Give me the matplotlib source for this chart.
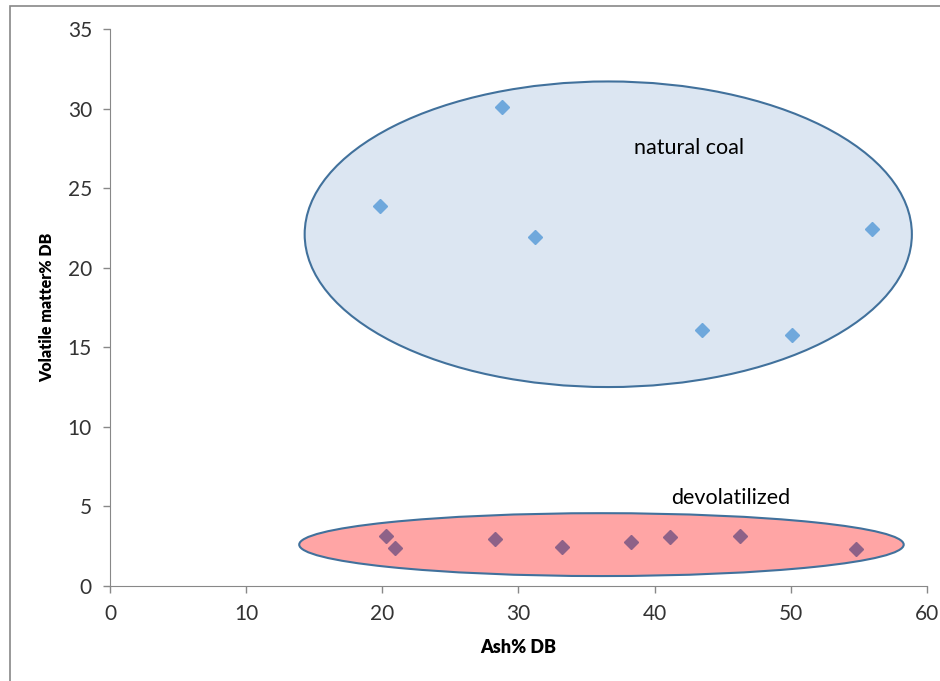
import matplotlib.pyplot as plt
from matplotlib.patches import Ellipse, Rectangle

# natural coal samples (ash %, volatile matter %)
coal_ash = [19.8, 28.8, 31.2, 43.5, 50.1, 56.0]
coal_vm = [23.9, 30.1, 21.9, 16.1, 15.8, 22.4]

# devolatilized samples
devol_ash = [20.3, 20.9, 28.3, 33.2, 38.3, 41.1, 46.3, 54.8]
devol_vm = [3.14, 2.40, 2.95, 2.45, 2.77, 3.08, 3.14, 2.33]

x_ticks = [0, 10, 20, 30, 40, 50, 60]
y_ticks = [0, 5, 10, 15, 20, 25, 30, 35]

# group outlines: centre x, centre y, width, height
coal_group = (36.6, 22.1, 44.6, 19.2)
devol_group = (36.1, 2.6, 44.4, 3.95)

plt.rcParams['font.family'] = ['Lato', 'DejaVu Sans']

fig = plt.figure(figsize=(9.4, 6.81), dpi=100)
ax = fig.add_axes([0.117, 0.1395, 0.869, 0.818])

ax.add_patch(Ellipse(coal_group[:2], coal_group[2], coal_group[3],
                     facecolor='#dce6f2', edgecolor='#41719c', linewidth=1.5, zorder=1))
ax.add_patch(Ellipse(devol_group[:2], devol_group[2], devol_group[3],
                     facecolor='#ffa5a5', edgecolor='#41719c', linewidth=1.5, zorder=1))

ax.plot(coal_ash, coal_vm, linestyle='none', marker='D', markersize=7.3,
        color='#6fa8dc', zorder=3)
ax.plot(devol_ash, devol_vm, linestyle='none', marker='D', markersize=7.3,
        color='#8e6288', zorder=3)

ax.text(42.5, 27.5, 'natural coal', fontsize=15.5, ha='center', va='center', zorder=4)
ax.text(45.6, 5.55, 'devolatilized', fontsize=15.5, ha='center', va='center', zorder=4)

ax.set_xlim(0, 60)
ax.set_ylim(0, 35)
ax.set_xticks(x_ticks)
ax.set_yticks(y_ticks)
ax.tick_params(labelsize=15, length=5, width=1, pad=8)
ax.tick_params(axis='x', colors='#888888', labelcolor='#333333')
ax.tick_params(axis='y', colors='#888888', labelcolor='#333333')
for s in ['top', 'right']:
    ax.spines[s].set_visible(False)
for s in ['left', 'bottom']:
    ax.spines[s].set_color('#888888')

ax.set_xlabel('Ash% DB', fontsize=13, fontweight='heavy', labelpad=11)
ax.set_ylabel('Volatile matter% DB', fontsize=11.5, fontweight='heavy', labelpad=9)

# chart area frame, cut off at right and bottom
fig.patches.append(Rectangle((10 / 940, -0.1), 1.2, 0.1 + 675 / 681,
                             transform=fig.transFigure, fill=False,
                             edgecolor='#888888', linewidth=1.2))

plt.savefig('out.png', dpi=100)
